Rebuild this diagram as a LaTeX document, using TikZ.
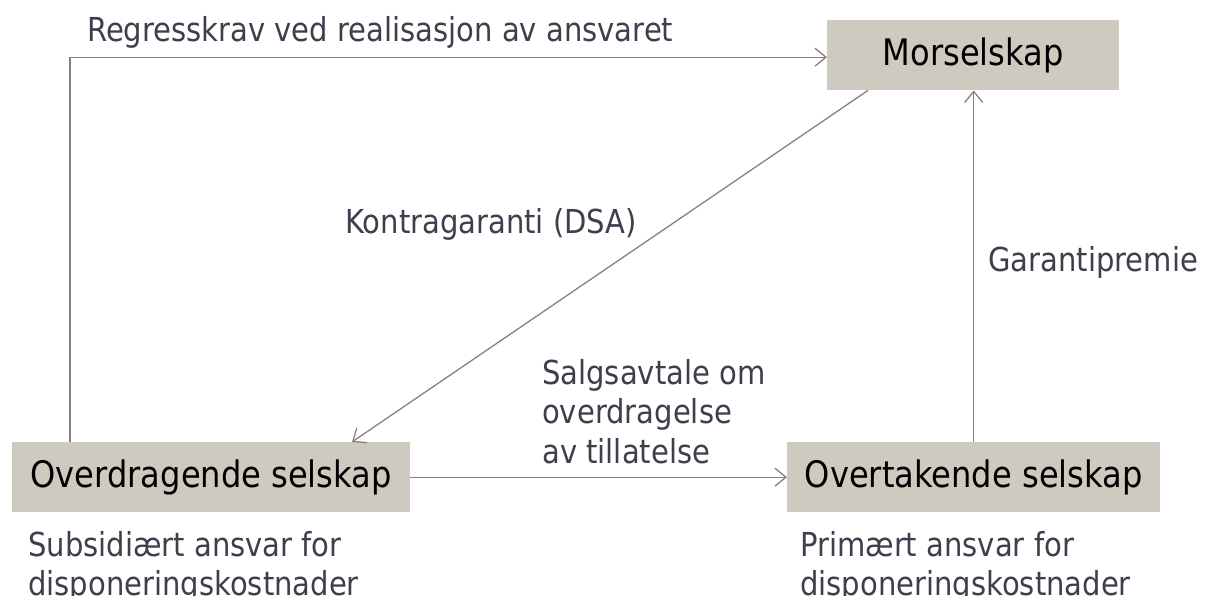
\documentclass[tikz,border=0pt]{standalone}
\usepackage{fontspec}
\setmainfont{DejaVu Sans}[FakeStretch=0.88]
\usetikzlibrary{arrows.meta,positioning}
\definecolor{boxfill}{HTML}{CFCAC0}
\definecolor{linegray}{HTML}{8A8178}
\definecolor{labeltext}{HTML}{3E3E4C}
\begin{document}
\begin{tikzpicture}[x=1pt,y=-1pt,
  entity/.style={rectangle, fill=boxfill, draw=none, inner sep=0pt, anchor=north west,
    font=\fontsize{36.5}{40}\selectfont, text=black},
  lbl/.style={anchor=base west, inner sep=0pt, text=labeltext, align=left,
    font=\fontsize{33}{39.5}\selectfont},
  conn/.style={draw=linegray, line width=1.3pt,
    -{Straight Barb[length=11pt,width=18pt,line width=1.3pt]}}
]
\useasboundingbox (0,0) rectangle (1205,596);
\node[entity, minimum width=292pt, minimum height=70pt] (mor) at (827,20) {Morselskap};
\node[entity, minimum width=398pt, minimum height=70pt] (ovd) at (12,442) {Overdragende selskap};
\node[entity, minimum width=373pt, minimum height=70pt] (ovt) at (787,442) {Overtakende selskap};

\draw[conn] ([xshift=58pt]ovd.north west) |- ([yshift=-2pt]mor.west);
\draw[conn] ([xshift=41pt]mor.south west) -- ([xshift=340pt]ovd.north west);
\draw[conn] (ovd.east) -- (ovt.west);
\draw[conn] (ovt.north) -- (mor.south -| ovt.north);

\node[lbl] (l1) at (87,42) {Regresskrav ved realisasjon av ansvaret};
\node[lbl] (l2) at (345,234) {Kontragaranti (DSA)};
\node[lbl] (l3) at (988,272) {Garantipremie};
\node[lbl, anchor=north west] (l4) at (542,359) {Salgsavtale om\\overdragelse\\av tillatelse};
\node[lbl, anchor=north west] (l5) at (28,531) {Subsidiært ansvar for\\disponeringskostnader};
\node[lbl, anchor=north west] (l6) at (800,531) {Primært ansvar for\\disponeringskostnader};
\end{tikzpicture}
\end{document}
